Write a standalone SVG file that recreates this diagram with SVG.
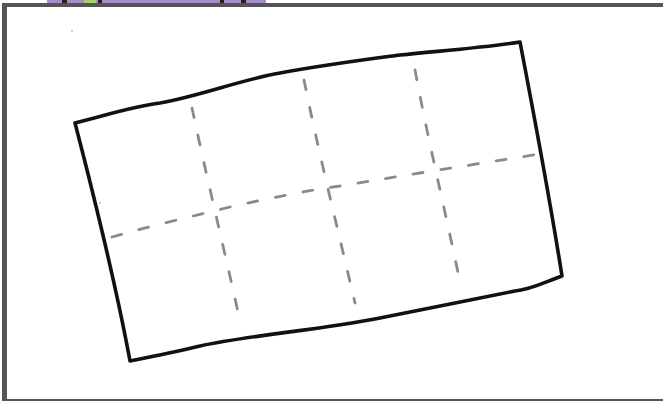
<svg xmlns="http://www.w3.org/2000/svg" width="663" height="401" viewBox="0 0 663 401">
<style>
.outline{fill:none;stroke:#111;stroke-width:3.6;stroke-linecap:round;stroke-linejoin:round}
.dash{fill:none;stroke:#8a8a8a;stroke-width:2.8;stroke-linecap:round;stroke-dasharray:10 18}
</style>
<rect width="663" height="401" fill="#fff"/>
<g id="topstrip">
<rect x="47" y="0" width="219" height="3" fill="#a48bc9"/>
<rect x="62" y="0" width="5" height="3" fill="#222"/>
<rect x="84" y="0" width="12" height="3" fill="#a9d36a"/>
<rect x="98" y="0" width="4" height="3" fill="#222"/>
<rect x="220" y="0" width="4" height="3" fill="#222"/>
<rect x="241" y="0" width="5" height="3" fill="#222"/>
</g>
<g id="frame">
<rect x="2" y="3" width="661" height="4" fill="#555"/>
<rect x="2" y="3" width="5" height="398" fill="#555"/>
<rect x="2" y="399" width="661" height="2" fill="#555"/>
</g>
<g id="sheet">
<path class="outline" d="M75,123 C110,114 135,106 160,103 C200,96 240,80 280,73 C330,64 370,59 400,55 C450,50 490,47 520,42 C535,120 550,200 562,276 C545,282 530,290 515,291 C470,300 420,310 380,318 C320,330 250,335 200,346 C175,352 150,357 130,361 C115,280 95,200 75,123 Z"/>
</g>
<g id="connectors">
<path class="dash" d="M112,237 C150,226 190,217 230,207 C270,198 310,190 340,186 C400,176 470,165 540,154"/>
<path class="dash" d="M192,108 C205,170 222,240 238,312"/>
<path class="dash" d="M304,80 C318,150 338,230 355,303"/>
<path class="dash" d="M415,70 C428,140 445,210 460,282"/>
</g>
<circle cx="72" cy="31" r="1.2" fill="#ccc"/>
<circle cx="100" cy="203" r="0.8" fill="#888"/>
</svg>
